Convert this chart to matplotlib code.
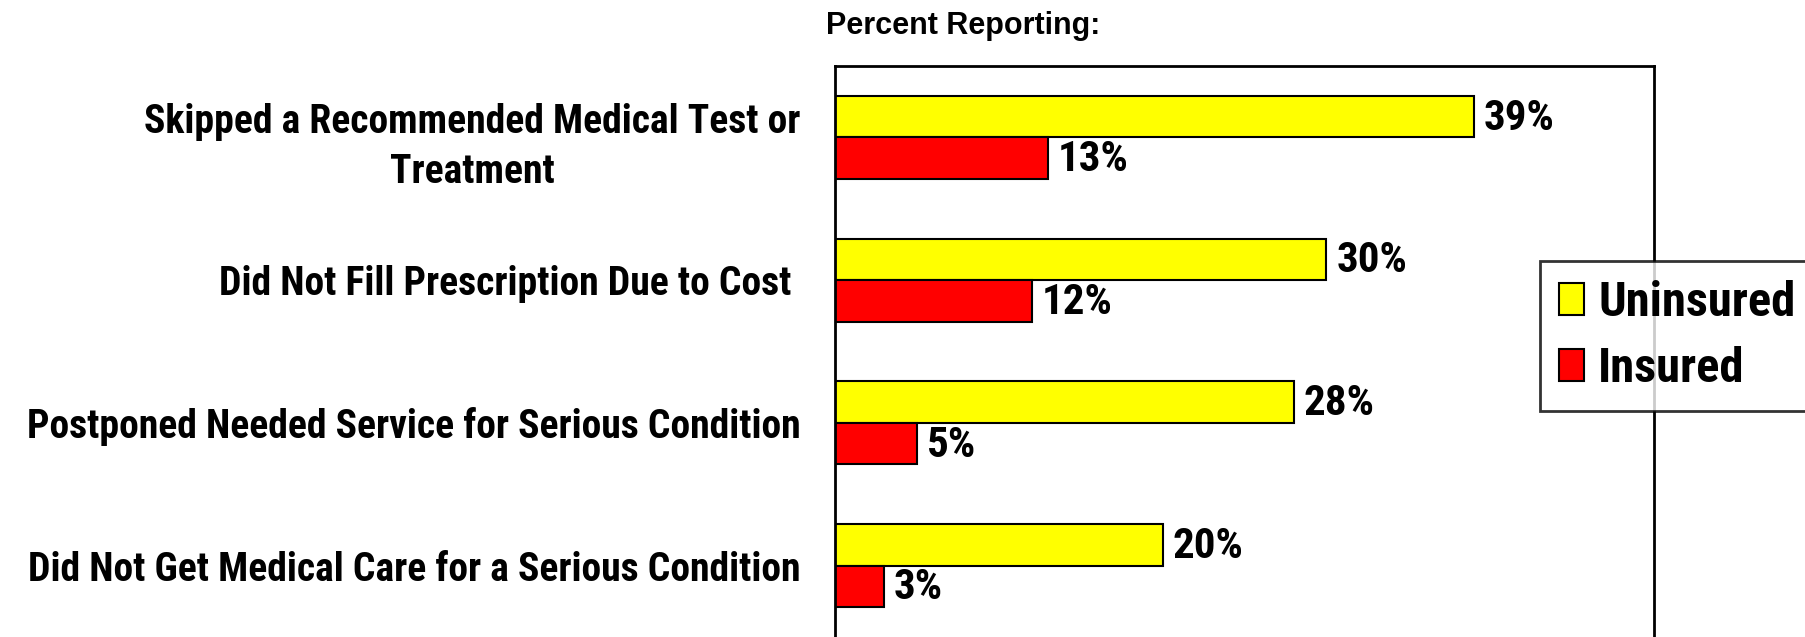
import matplotlib
matplotlib.use('Agg')
import matplotlib.pyplot as plt
import numpy as np
from matplotlib.patches import Patch

# data
categories = ['Skipped a Recommended Medical Test or\nTreatment',
              'Did Not Fill Prescription Due to Cost ',
              'Postponed Needed Service for Serious Condition',
              'Did Not Get Medical Care for a Serious Condition']
uninsured = [39, 30, 28, 20]
insured = [13, 12, 5, 3]
series_names = ['Uninsured', 'Insured']
series_colors = ['#FFFF00', '#FF0000']

plt.rcParams['font.family'] = ['Roboto Condensed', 'DejaVu Sans']
plt.rcParams['font.weight'] = 'bold'

fig = plt.figure(figsize=(18.05, 6.37), dpi=100)
ax = fig.add_axes([835 / 1805, 0.0, (1654 - 835) / 1805, (637 - 66) / 637])

y = np.arange(len(categories))
h = 0.29
bars_u = ax.barh(y - h / 2, uninsured, height=h, color=series_colors[0],
                 edgecolor='black', linewidth=1.5)
bars_i = ax.barh(y + h / 2, insured, height=h, color=series_colors[1],
                 edgecolor='black', linewidth=1.5)

for bars, vals in [(bars_u, uninsured), (bars_i, insured)]:
    for b, v in zip(bars, vals):
        ax.text(b.get_width() + 0.6, b.get_y() + b.get_height() / 2 + 0.01, f'{v}%',
                ha='left', va='center', fontsize=31, fontweight='bold')

ax.set_xlim(0, 50)
ax.set_ylim(3.5, -0.5)
ax.set_xticks([])
ax.set_yticks(y)
ax.set_yticklabels(categories, fontsize=28.5, fontweight='bold',
                   multialignment='center', linespacing=1.4)
ax.tick_params(axis='y', length=0, pad=25)
for side in ['left', 'right', 'top']:
    ax.spines[side].set_linewidth(2)
ax.spines['bottom'].set_visible(False)

fig.text(826 / 1805, 1 - 26 / 637, 'Percent Reporting:', ha='left', va='center',
         fontsize=22, fontweight='bold', family=['Liberation Sans', 'DejaVu Sans'])

handles = [Patch(facecolor=c, edgecolor='black', linewidth=1.5) for c in series_colors]
leg = fig.legend(handles, series_names, loc='upper left',
                 bbox_to_anchor=(1540 / 1805, 1 - 261 / 637),
                 prop={'weight': 'bold', 'size': 35},
                 frameon=True, fancybox=False, edgecolor='black',
                 handlelength=0.5, handleheight=0.64, handletextpad=0.3,
                 borderpad=0.4, labelspacing=0.4, borderaxespad=0)
leg.get_frame().set_linewidth(2)

fig.savefig('out.png', dpi=100)
